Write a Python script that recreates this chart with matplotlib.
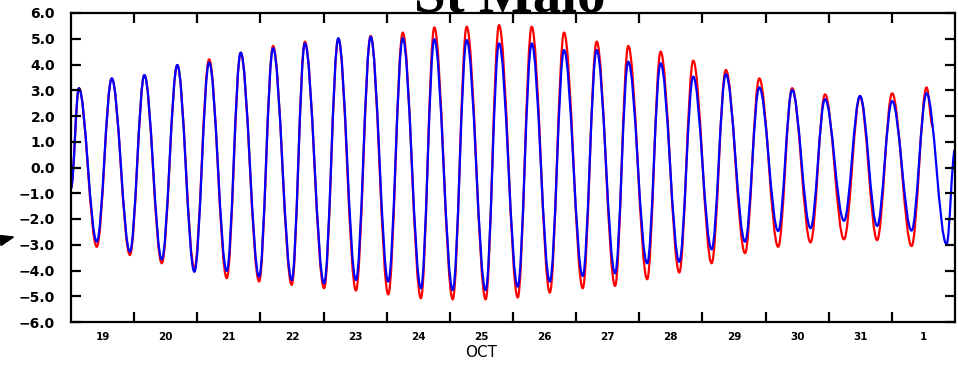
import matplotlib
matplotlib.use("Agg")
import matplotlib.pyplot as plt
from matplotlib.patches import Polygon, PathPatch
from matplotlib.path import Path

# ---- data (hours since 19 Oct 00:00, sea level in m) ----
high_hours = [3.0, 15.5, 27.9, 40.4, 52.5, 64.5, 76.8, 88.9, 101.6, 113.9, 126.1, 138.1,
              150.4, 162.7, 175.1, 187.4, 199.8, 211.8, 224.1, 236.5, 248.9, 261.6, 274.1,
              286.6, 299.9, 312.1, 325.2]
low_hours = [9.8, 22.4, 34.5, 46.9, 59.2, 71.5, 83.9, 96.2, 108.3, 120.6, 133.0, 145.1,
             157.6, 169.8, 182.0, 194.5, 206.8, 219.0, 231.2, 243.5, 256.2, 268.8, 281.1,
             293.8, 306.4, 319.5, 332.8]

red_high = [3.08, 3.46, 3.59, 3.98, 4.20, 4.46, 4.72, 4.89, 5.00, 5.11, 5.24, 5.44,
            5.47, 5.53, 5.47, 5.24, 4.89, 4.72, 4.50, 4.15, 3.79, 3.46, 3.08, 2.84,
            2.75, 2.88, 3.11]
red_low = [-3.08, -3.40, -3.72, -3.92, -4.30, -4.43, -4.56, -4.69, -4.78, -4.93, -5.08, -5.12,
           -5.12, -5.05, -4.86, -4.69, -4.60, -4.34, -4.08, -3.72, -3.33, -3.08, -2.91,
           -2.79, -2.82, -3.05]
blue_high = [3.08, 3.46, 3.59, 3.98, 4.08, 4.46, 4.63, 4.82, 5.02, 5.08, 5.02, 4.98,
             4.95, 4.82, 4.82, 4.56, 4.56, 4.11, 4.05, 3.53, 3.62, 3.11, 3.01, 2.65,
             2.78, 2.58, 2.88]
blue_low = [-2.88, -3.27, -3.57, -4.05, -4.02, -4.24, -4.37, -4.50, -4.37, -4.43, -4.69, -4.76,
            -4.76, -4.63, -4.43, -4.21, -4.11, -3.72, -3.66, -3.18, -2.88, -2.47, -2.36,
            -2.07, -2.27, -2.45, -2.98]

start_hour, start_level = 0.0, -0.8
red_end_hour, red_end_level = 327.5, 1.6
blue_end_hour, blue_end_level = 336.0, 0.7

day_labels = ['19', '20', '21', '22', '23', '24', '25', '26', '27', '28', '29', '30', '31', '1']
month_label = 'OCT'
month_label_day_index = 6
y_ticks = [6, 5, 4, 3, 2, 1, 0, -1, -2, -3, -4, -5, -6]
title = 'St Malo'


def build_series(highs, lows, end_h, end_v):
    xs, ys = [start_hour], [start_level]
    for i in range(len(highs)):
        xs.append(high_hours[i]); ys.append(highs[i])
        if i < len(lows):
            xs.append(low_hours[i]); ys.append(lows[i])
    xs.append(end_h); ys.append(end_v)
    return xs, ys


def smooth_path(xs, ys, k=0.36):
    # cubic Bezier segments with flat tangents at each turning point
    verts = [(xs[0], ys[0])]
    codes = [Path.MOVETO]
    for i in range(1, len(xs)):
        x0, y0, x1, y1 = xs[i - 1], ys[i - 1], xs[i], ys[i]
        dx = x1 - x0
        verts += [(x0 + k * dx, y0), (x1 - k * dx, y1), (x1, y1)]
        codes += [Path.CURVE4] * 3
    return Path(verts, codes)


rx, ry = build_series(red_high, red_low, red_end_hour, red_end_level)
bx, by = build_series(blue_high, blue_low, blue_end_hour, blue_end_level)

W, H = 958, 366
fig = plt.figure(figsize=(W / 100, H / 100), dpi=100)
ax = fig.add_axes([71 / W, (H - 322) / H, (955 - 71) / W, (322 - 13) / H])

for xs, ys, col in [(rx, ry, '#ff0000'), (bx, by, '#0000ff')]:
    ax.add_patch(PathPatch(smooth_path(xs, ys), fill=False, edgecolor=col, lw=1.6,
                           joinstyle='round', capstyle='butt'))

ndays = len(day_labels)
ax.set_xlim(0, 24 * ndays)
ax.set_ylim(-6, 6)

for s in ax.spines.values():
    s.set_linewidth(1.6)

ax.set_yticks(y_ticks)
ax.set_yticklabels([f"{v:.1f}".replace('-', '\u2212') for v in y_ticks],
                   fontsize=10, fontweight='bold')
ax.tick_params(axis='y', direction='in', length=7, width=1.6, right=True, pad=11.5)

ax.set_xticks([24 * i for i in range(1, ndays)])
ax.set_xticklabels([])
ax.set_xticks([24 * i + 12 for i in range(ndays)], minor=True)
ax.set_xticklabels(day_labels, minor=True, fontsize=7.5, fontweight='bold')
ax.tick_params(axis='x', which='major', direction='in', length=7, width=1.6, top=True)
ax.tick_params(axis='x', which='minor', length=0, pad=7)

ax.text(24 * month_label_day_index + 12, -0.1, month_label, transform=ax.get_xaxis_transform(),
        ha='center', va='center', fontsize=11)

fig.text(510 / W, 1 - 12 / H, title, ha='center', va='baseline',
         fontsize=41, fontweight='bold', family='Liberation Serif')

tri = Polygon([(0 / W, 1 - 235.5 / H), (13.5 / W, 1 - 237 / H), (1 / W, 1 - 245.5 / H)],
              closed=True, transform=fig.transFigure, facecolor='black', edgecolor='black')
fig.patches.append(tri)

fig.savefig('out.png', dpi=100)
